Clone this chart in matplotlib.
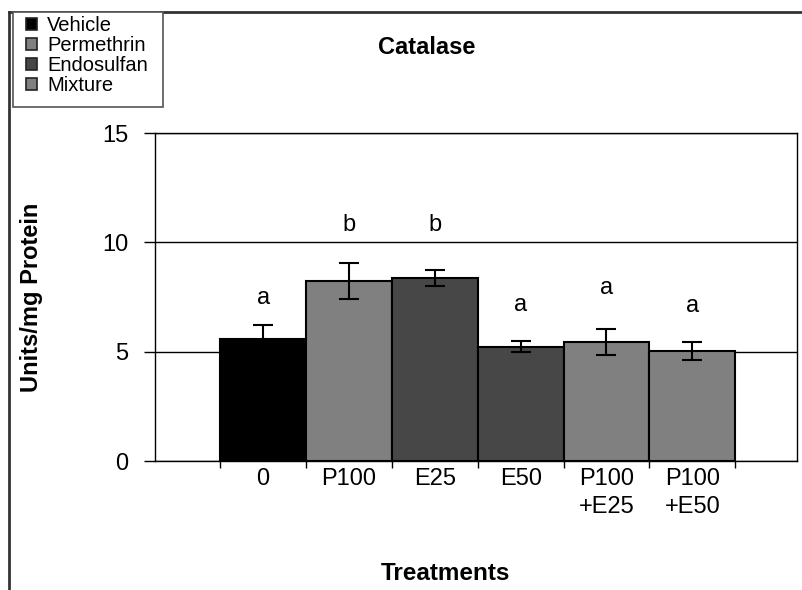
import matplotlib
matplotlib.use("Agg")
import matplotlib.pyplot as plt
from matplotlib.patches import Patch, Rectangle
from matplotlib.lines import Line2D

plt.rcParams['font.family'] = ['Liberation Sans', 'DejaVu Sans']

treatments = ["0", "P100", "E25", "E50", "P100\n+E25", "P100\n+E50"]
means = [5.57, 8.24, 8.37, 5.22, 5.43, 5.04]
errors = [0.63, 0.81, 0.36, 0.25, 0.6, 0.4]
letters = ["a", "b", "b", "a", "a", "a"]
letter_y = [7.45, 10.8, 10.8, 7.13, 7.9, 7.09]
groups = ["Vehicle", "Permethrin", "Endosulfan", "Mixture"]

group_colors = {"Vehicle": "#000000", "Permethrin": "#808080",
                "Endosulfan": "#474747", "Mixture": "#808080"}
bar_groups = ["Vehicle", "Permethrin", "Endosulfan", "Endosulfan", "Mixture", "Mixture"]

fig = plt.figure(figsize=(8.02, 5.9), dpi=100)
ax = fig.add_axes([155 / 802, 1 - 461 / 590, (797 - 155) / 802, (461 - 133) / 590])

x = list(range(len(treatments)))
ax.bar(x, means, width=1.0, color=[group_colors[g] for g in bar_groups],
       edgecolor="black", linewidth=1.5, zorder=3)
ax.errorbar(x, means, yerr=errors, fmt="none", ecolor="black", elinewidth=1.5,
            capsize=7, capthick=1.5, zorder=4)
for xi, lab, ly in zip(x, letters, letter_y):
    ax.text(xi, ly, lab, ha="center", va="center", fontsize=17)

ax.set_ylim(0, 15)
ax.set_yticks([0, 5, 10, 15])
ax.yaxis.grid(True, color="black", linewidth=1)
ax.set_axisbelow(True)
ax.set_xlim(-1.26, 6.22)
ax.set_xticks(x)
ax.set_xticklabels(treatments, fontsize=17, linespacing=1.35)
ax.set_xticks([i + 0.5 for i in range(-1, 6)], minor=True)
ax.tick_params(axis="x", which="major", length=0, pad=5)
ax.tick_params(axis="x", which="minor", length=5, width=1, direction="out")
ax.tick_params(axis="y", labelsize=17, length=8, width=1, direction="out", pad=11)
for s in ax.spines.values():
    s.set_linewidth(1)

fig.text(32 / 802, 1 - 297 / 590, "Units/mg Protein", ha="center", va="center",
         rotation=90, fontsize=17, fontweight="bold")
fig.text(445 / 802, 1 - 573 / 590, "Treatments", ha="center", va="center",
         fontsize=17.5, fontweight="bold")
fig.text(427 / 802, 1 - 47 / 590, "Catalase", ha="center", va="center",
         fontsize=17, fontweight="bold")

# outer frame lines
fig.add_artist(Line2D([9 / 802, 9 / 802], [0, 1 - 12 / 590], color="#333333",
                      linewidth=2, transform=fig.transFigure))
fig.add_artist(Line2D([9 / 802, 1], [1 - 12 / 590, 1 - 12 / 590], color="#333333",
                      linewidth=2, transform=fig.transFigure))

# legend box
fig.add_artist(Rectangle((13 / 802, 1 - 107 / 590), 150 / 802, 95 / 590,
                         facecolor="white", edgecolor="#555555", linewidth=1.2,
                         transform=fig.transFigure, zorder=5))
handles = [Patch(facecolor=group_colors[g], edgecolor="#222222", linewidth=1.2)
           for g in groups]
leg = fig.legend(handles, groups, loc="upper left", bbox_to_anchor=(26 / 802, 1 - 16 / 590),
                 fontsize=14.5, frameon=False,
                 handlelength=0.55, handleheight=0.6, handletextpad=0.5,
                 labelspacing=0.05, borderpad=0, borderaxespad=0)
leg.set_zorder(6)

fig.savefig("out.png", dpi=100)
